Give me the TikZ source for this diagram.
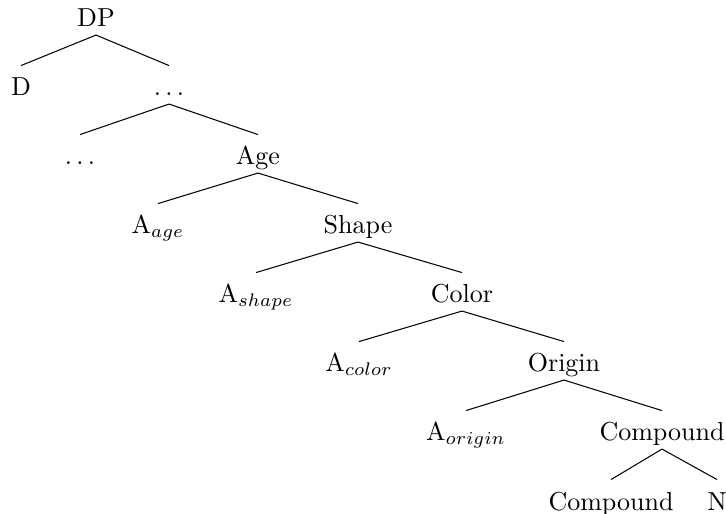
\documentclass[tikz,border=0pt]{standalone}
\begin{document}
\begin{tikzpicture}[x=0.3846pt,y=-0.3846pt,
  lab/.style={anchor=base,inner sep=0pt,text height=11.5pt,text depth=2.9pt},
  edge/.style={draw,line width=0.4pt}]
\useasboundingbox (0,0) rectangle (726,514);
% labels, placed by baseline
\node[lab] (dp)  at (96,27)  {DP};
\node[lab] (d)   at (21,96)  {D};
\node[lab] (e1)  at (169,96) {$\ldots$};
\node[lab] (e2)  at (80,165) {$\ldots$};
\node[lab] (age) at (258,165) {Age};
\node[lab] (aage) at (158,234) {A$_{age}$};
\node[lab] (shape) at (358,234) {Shape};
\node[lab] (ashape) at (256,303) {A$_{shape}$};
\node[lab] (color) at (462,303) {Color};
\node[lab] (acolor) at (359,372) {A$_{color}$};
\node[lab] (origin) at (564,372) {Origin};
\node[lab] (aorigin) at (466,441) {A$_{origin}$};
\node[lab] (comp) at (662,441) {Compound};
\node[lab] (comp2) at (611,510) {Compound};
\node[lab] (n) at (717,510) {N};
% branches
\foreach \p/\c in {dp/d,dp/e1,e1/e2,e1/age,age/aage,age/shape,shape/ashape,
  shape/color,color/acolor,color/origin,origin/aorigin,origin/comp,comp/comp2,comp/n}
  \draw[edge] (\p.south) -- (\c.north);
\end{tikzpicture}
\end{document}
